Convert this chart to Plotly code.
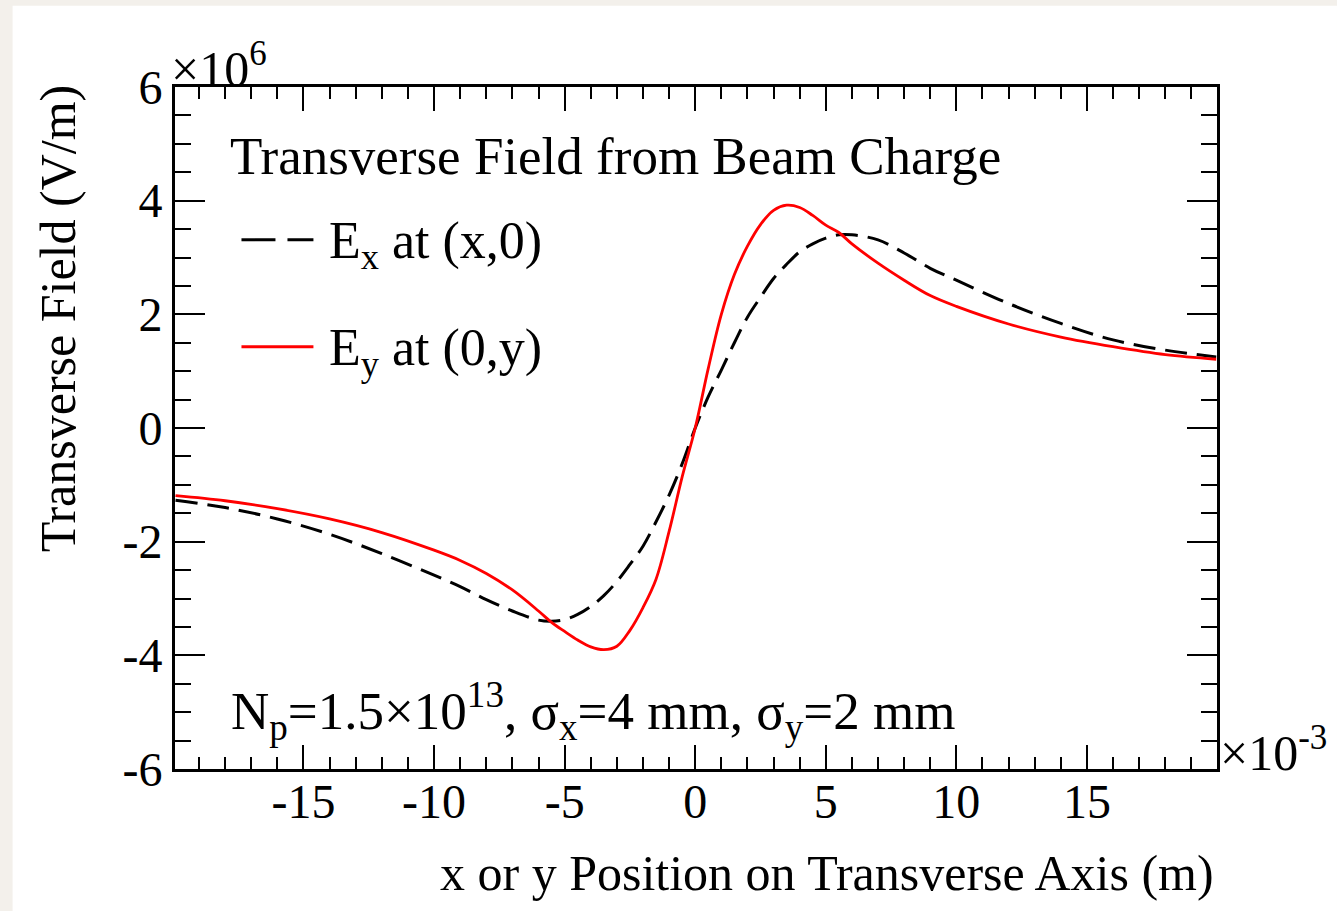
import plotly.graph_objects as go

# ---- data (x in units of 1e-3 m, field in units of 1e6 V/m) ----
pos = [-19.9, -18, -16, -14, -12, -10, -9, -8, -7, -6, -5.5, -5, -4.5, -4, -3.5, -3,
       -2.5, -2, -1.5, -1, -0.5, 0, 0.5, 1, 1.5, 2, 2.5, 3, 3.5, 4, 4.5, 5, 5.5, 6,
       7, 8, 9, 10, 12, 14, 16, 18, 19.95]
ex_vals = [-1.27, -1.40, -1.60, -1.87, -2.21, -2.59, -2.79, -3.02, -3.22, -3.38, -3.40,
           -3.37, -3.28, -3.14, -2.95, -2.70, -2.40, -2.08, -1.65, -1.18, -0.63, 0.0,
           0.55, 1.02, 1.50, 1.95, 2.30, 2.63, 2.88, 3.10, 3.24, 3.34, 3.40, 3.40,
           3.31, 3.08, 2.81, 2.60, 2.19, 1.84, 1.55, 1.37, 1.25]
ey_vals = [-1.19, -1.28, -1.42, -1.60, -1.84, -2.15, -2.33, -2.56, -2.85, -3.22, -3.42,
           -3.58, -3.73, -3.85, -3.90, -3.84, -3.56, -3.16, -2.66, -1.82, -0.86, 0.0,
           1.05, 2.00, 2.70, 3.20, 3.58, 3.83, 3.92, 3.88, 3.74, 3.57, 3.44, 3.24,
           2.90, 2.60, 2.33, 2.14, 1.83, 1.60, 1.43, 1.29, 1.21]

x_range = [-19.92, 19.98]
y_range = [-6, 6]
x_tickvals = [-15, -10, -5, 0, 5, 10, 15]
x_ticktext = ["-15", "-10", "-5", "0", "5", "10", "15"]
y_tickvals = [-6, -4, -2, 0, 2, 4, 6]
y_ticktext = ["-6", "-4", "-2", "0", "2", "4", "6"]

FONT = "Liberation Serif"

fig = go.Figure()
fig.add_trace(go.Scatter(x=pos, y=ex_vals, mode="lines", name="E_x at (x,0)",
                         line=dict(color="black", width=3, dash="22px,10px"),
                         line_shape="spline", showlegend=False))
fig.add_trace(go.Scatter(x=pos, y=ey_vals, mode="lines", name="E_y at (0,y)",
                         line=dict(color="#ff0000", width=2.8),
                         line_shape="spline", showlegend=False))

W, H = 1337, 911
L, R, T, B = 174.5, 1217, 87.3, 769
pw, ph = R - L, B - T


def px2paper(px, py):
    return (px - L) / pw, (B - py) / ph


axis_common = dict(showline=True, linewidth=3, linecolor="black", mirror="ticks",
                   ticks="inside", tickwidth=2, tickcolor="black", showgrid=False,
                   zeroline=False, tickfont=dict(family=FONT, size=48, color="black"))

fig.update_xaxes(range=x_range, tickmode="array", tickvals=x_tickvals, ticktext=x_ticktext,
                 ticklen=24, ticklabelstandoff=-12,
                 minor=dict(tickmode="linear", tick0=0, dtick=1, ticklen=12, tickwidth=2,
                            ticks="inside", tickcolor="black", showgrid=False),
                 **axis_common)
fig.update_yaxes(range=y_range, tickmode="array", tickvals=y_tickvals, ticktext=y_ticktext,
                 ticklen=30,
                 minor=dict(tickmode="linear", tick0=0, dtick=0.5, ticklen=16, tickwidth=2,
                            ticks="inside", tickcolor="black", showgrid=False),
                 **axis_common)

shapes = []
# white page area over beige background
x0, y0 = px2paper(12, 911)
x1, y1 = px2paper(1337, 6)
shapes.append(dict(type="rect", xref="paper", yref="paper", x0=x0, y0=y0, x1=x1, y1=y1,
                   fillcolor="white", line=dict(width=0), layer="below"))
# legend samples
lx0, ly = px2paper(241, 240)
lx1, _ = px2paper(313, 240)
shapes.append(dict(type="line", xref="paper", yref="paper", x0=lx0, x1=lx1, y0=ly, y1=ly,
                   line=dict(color="black", width=3, dash="34px,12px")))
_, ly2 = px2paper(241, 347)
shapes.append(dict(type="line", xref="paper", yref="paper", x0=lx0, x1=lx1, y0=ly2, y1=ly2,
                   line=dict(color="#ff0000", width=3)))

annotations = []


def add_text(text, px, py, size, xanchor="left", yanchor="middle", angle=0):
    ax, ay = px2paper(px, py)
    annotations.append(dict(text=text, x=ax, y=ay, xref="paper", yref="paper",
                            xanchor=xanchor, yanchor=yanchor, showarrow=False,
                            textangle=angle,
                            font=dict(family=FONT, size=size, color="black")))


add_text("Transverse Field from Beam Charge", 228, 156, 53)
add_text("E<sub>x</sub> at (x,0)", 327, 245, 52)
add_text("E<sub>y</sub> at (0,y)", 327, 352, 52)
add_text("N<sub>p</sub>=1.5×10<sup>13</sup>, σ<sub>x</sub>=4 mm, σ<sub>y</sub>=2 mm", 229, 711, 53)
add_text("x or y Position on Transverse Axis (m)", 1216, 873, 50, xanchor="right")
add_text("Transverse Field (V/m)", 57, 319, 50, xanchor="center", angle=-90)
add_text("×10<sup>6</sup>", 168, 66, 50)
add_text("×10<sup>-3</sup>", 1218, 750, 50)

fig.update_layout(width=W, height=H,
                  margin=dict(l=L, r=W - R, t=T, b=H - B, pad=0),
                  paper_bgcolor="#f3f0eb", plot_bgcolor="white",
                  shapes=shapes, annotations=annotations,
                  font=dict(family=FONT, color="black"))

fig.write_html("out.html", config={"displayModeBar": False},
               post_script="document.body.style.margin='0px';document.body.style.padding='0px';")
